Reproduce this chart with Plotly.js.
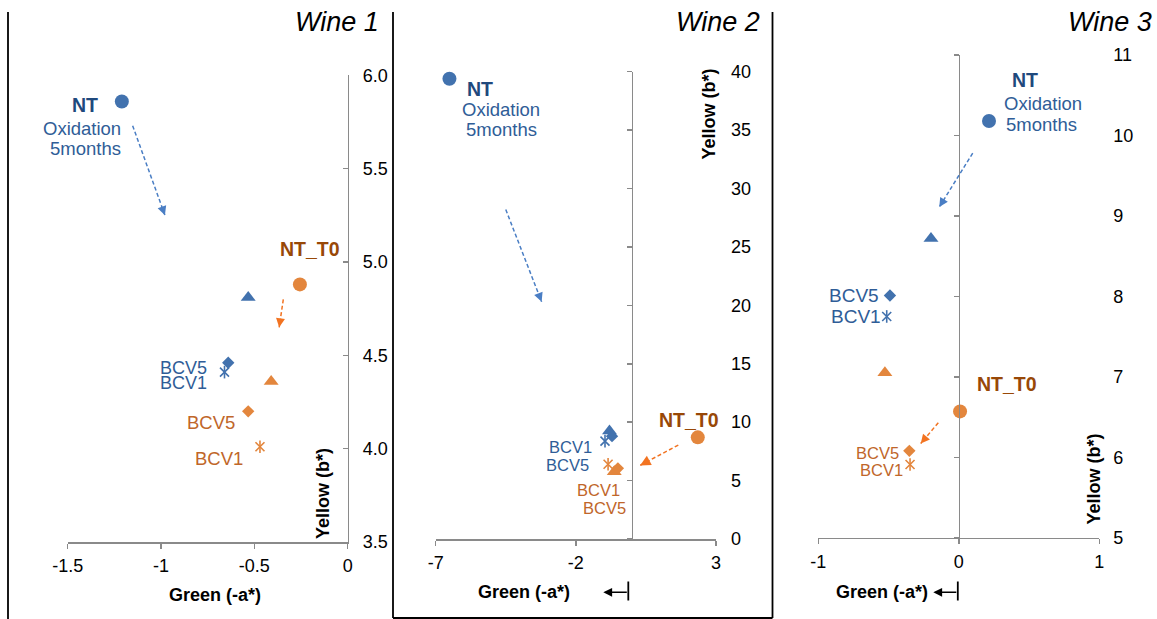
<!DOCTYPE html>
<html>
<head>
<meta charset="utf-8">
<script src="https://cdn.plot.ly/plotly-3.0.1.min.js"></script>
<style>html,body{margin:0;padding:0;background:#fff;}#chart{width:1157px;height:619px;}</style>
</head>
<body>
<div id="chart"></div>
<script>
// ---------------- DATA ----------------
// point order in every series: [circle, triangle, diamond (BCV5), asterisk (BCV1)]
const w1_ox_x = [-1.21, -0.533, -0.64, -0.66];
const w1_ox_y = [5.86, 4.81, 4.46, 4.41];
const w1_t0_x = [-0.256, -0.41, -0.533, -0.47];
const w1_t0_y = [4.88, 4.36, 4.20, 4.01];

const w2_ox_x = [-6.51, -0.80, -0.71, -0.96];
const w2_ox_y = [39.4, 9.24, 8.8, 8.38];
const w2_t0_x = [2.35, -0.63, -0.50, -0.85];
const w2_t0_y = [8.70, 5.75, 6.05, 6.4];

const w3_ox_x = [0.215, -0.198, -0.49, -0.513];
const w3_ox_y = [10.18, 8.72, 8.01, 7.75];
const w3_t0_x = [0.009, -0.526, -0.352, -0.347];
const w3_t0_y = [6.57, 7.05, 6.08, 5.91];

// arrows: [tailX, tailY, headX, headY]
const w1_ox_arrow = [-1.152, 5.73, -0.979, 5.25];
const w1_t0_arrow = [-0.345, 4.80, -0.367, 4.65];
const w2_ox_arrow = [-4.50, 28.2, -3.22, 20.3];
const w2_t0_arrow = [1.655, 8.04, 0.29, 6.3];
const w3_ox_arrow = [0.099, 9.78, -0.139, 9.11];
const w3_t0_arrow = [-0.146, 6.43, -0.271, 6.17];

// ticks
const w1_xticks = [-1.5, -1, -0.5, 0];
const w1_xticklabels = ['-1.5', '-1', '-0.5', '0'];
const w1_yticks = [3.5, 4.0, 4.5, 5.0, 5.5, 6.0];
const w1_yticklabels = ['3.5', '4.0', '4.5', '5.0', '5.5', '6.0'];
const w2_xticks = [-7, -2, 3];
const w2_xticklabels = ['-7', '-2', '3'];
const w2_yticks = [0, 5, 10, 15, 20, 25, 30, 35, 40];
const w2_yticklabels = ['0', '5', '10', '15', '20', '25', '30', '35', '40'];
const w3_xticks = [-1, 0, 1];
const w3_xticklabels = ['-1', '0', '1'];
const w3_yticks = [5, 6, 7, 8, 9, 10, 11];
const w3_yticklabels = ['5', '6', '7', '8', '9', '10', '11'];

const titles = ['Wine 1', 'Wine 2', 'Wine 3'];
const xTitle = 'Green (-a*)';
const yTitle = 'Yellow (b*)';

// ---------------- STYLE ----------------
const W = 1157, H = 619;
const px = v => v / W;
const py = v => 1 - v / H;
const FONT = 'Liberation Sans, Arial, Helvetica, sans-serif';
const BLUE = '#4272AE', ORANGE = '#E3863D';
const BLUE_TXT = '#2F5D97', NT_BLUE = '#1F497D', BCV_OR = '#C0662A', T0_OR = '#984807';
const BLUE_ARROW = '#4A7EC4', OR_ARROW = '#F27321';
const AXIS = '#8A8A8A';
const SYMBOLS = ['circle', 'triangle-up', 'diamond', 'x-thin-open'];
const SIZES = [14, 13, 9.5, 9];

// panel geometry in pixels
const P1 = { xd: [67.7, 347.7], yd: [75.3, 542], xr: [-1.5, 0], yr: [3.5, 6.0] };
const P2 = { xd: [435.7, 716], yd: [71.7, 539], xr: [-7, 3], yr: [0, 40] };
const P3 = { xd: [818.3, 1099.3], yd: [55, 537.7], xr: [-1, 1], yr: [5, 11] };

const traces = [];
function addSeries(xs, ys, color, xa, ya) {
  traces.push({
    type: 'scatter', mode: 'markers', x: xs, y: ys, xaxis: xa, yaxis: ya,
    cliponaxis: false, hoverinfo: 'x+y',
    marker: { symbol: SYMBOLS, size: SIZES, color: color, opacity: 1,
      line: { color: color, width: [0, 0, 0, 1.6] } }
  });
  traces.push({
    type: 'scatter', mode: 'markers', x: [xs[3]], y: [ys[3]], xaxis: xa, yaxis: ya,
    cliponaxis: false, hoverinfo: 'skip',
    marker: { symbol: 'line-ns-open', size: 9, color: color, opacity: 1,
      line: { color: color, width: 1.6 } }
  });
}
addSeries(w1_ox_x, w1_ox_y, BLUE, 'x', 'y');
addSeries(w1_t0_x, w1_t0_y, ORANGE, 'x', 'y');
addSeries(w2_ox_x, w2_ox_y, BLUE, 'x2', 'y2');
addSeries(w2_t0_x, w2_t0_y, ORANGE, 'x2', 'y2');
addSeries(w3_ox_x, w3_ox_y, BLUE, 'x3', 'y3');
addSeries(w3_t0_x, w3_t0_y, ORANGE, 'x3', 'y3');
// empty traces so that the axis lines through x = 0 are drawn
traces.push({ type: 'scatter', x: [], y: [], xaxis: 'x2', yaxis: 'y4', hoverinfo: 'skip' });
traces.push({ type: 'scatter', x: [], y: [], xaxis: 'x3', yaxis: 'y5', hoverinfo: 'skip' });

const tickFont = { family: FONT, size: 18, color: '#000' };
function xAxis(P, tv, tt, anchor) {
  return { domain: [px(P.xd[0]), px(P.xd[1])], range: P.xr, anchor: anchor, tickvals: tv, ticktext: tt,
    showline: true, linecolor: AXIS, linewidth: 1.5, ticks: 'outside', ticklen: 5,
    tickcolor: AXIS, tickwidth: 1.5, showgrid: false, zeroline: false,
    tickfont: tickFont, fixedrange: true, ticklabelstandoff: 2 };
}
function yLabelAxis(P, tv, tt, anchor, standoff) {
  return { domain: [py(P.yd[1]), py(P.yd[0])], range: P.yr, anchor: anchor, side: 'right',
    tickvals: tv, ticktext: tt, showline: false, ticks: '', showgrid: false, zeroline: false,
    tickfont: tickFont, fixedrange: true, ticklabelstandoff: standoff };
}
function yLineAxis(over, pos, P, tv) {
  return { overlaying: over, anchor: 'free', position: pos, side: 'left', range: P.yr,
    tickvals: tv, showticklabels: false, showline: true, linecolor: AXIS, linewidth: 1.5,
    ticks: 'outside', ticklen: 5, tickcolor: AXIS, tickwidth: 1.5, showgrid: false,
    zeroline: false, fixedrange: true };
}

const layout = {
  width: W, height: H, margin: { l: 0, r: 0, t: 0, b: 0 },
  paper_bgcolor: '#fff', plot_bgcolor: 'rgba(0,0,0,0)', showlegend: false,
  font: { family: FONT },
  xaxis: xAxis(P1, w1_xticks, w1_xticklabels, 'y'),
  yaxis: { domain: [py(P1.yd[1]), py(P1.yd[0])], range: P1.yr, anchor: 'x', side: 'right',
    tickvals: w1_yticks, ticktext: w1_yticklabels, showline: true, linecolor: AXIS, linewidth: 1.5,
    ticks: 'inside', ticklen: 5, tickcolor: AXIS, tickwidth: 1.5, showgrid: false, zeroline: false,
    tickfont: tickFont, fixedrange: true, ticklabelstandoff: 10 },
  xaxis2: xAxis(P2, w2_xticks, w2_xticklabels, 'y2'),
  yaxis2: yLabelAxis(P2, w2_yticks, w2_yticklabels, 'x2', 14),
  yaxis4: yLineAxis('y2', px(631.9), P2, w2_yticks),
  xaxis3: xAxis(P3, w3_xticks, w3_xticklabels, 'y3'),
  yaxis3: yLabelAxis(P3, w3_yticks, w3_yticklabels, 'x3', 13),
  yaxis5: yLineAxis('y3', px(958.8), P3, w3_yticks),
  shapes: [], annotations: []
};

// frames
const frameLines = [
  [8, 12, 8, 619], [393, 12, 393, 618], [393, 618, 772.5, 618], [772.5, 12, 772.5, 618]
];
frameLines.forEach(f => layout.shapes.push({ type: 'line', xref: 'paper', yref: 'paper',
  x0: px(f[0]), y0: py(f[1]), x1: px(f[2]), y1: py(f[3]), line: { color: '#000', width: 1.8 } }));

// dashed arrows: dashed shaft as a shape, solid head as an annotation (pixel-offset tail)
function addArrow(a, color, xa, ya, P, size) {
  layout.shapes.push({ type: 'line', xref: xa, yref: ya, x0: a[0], y0: a[1], x1: a[2], y1: a[3],
    line: { color: color, width: 1.5, dash: '4px,2.5px' } });
  const sx = (P.xd[1] - P.xd[0]) / (P.xr[1] - P.xr[0]);
  const sy = (P.yd[1] - P.yd[0]) / (P.yr[1] - P.yr[0]);
  const dx = (a[2] - a[0]) * sx, dy = -(a[3] - a[1]) * sy;
  const len = Math.hypot(dx, dy), L = 9;
  layout.annotations.push({ xref: xa, yref: ya, x: a[2], y: a[3],
    ax: -dx / len * L, ay: -dy / len * L, text: '', showarrow: true,
    arrowhead: 2, arrowsize: size || 1.2, arrowwidth: 1.5, arrowcolor: color, standoff: 0 });
}
addArrow(w1_ox_arrow, BLUE_ARROW, 'x', 'y', P1);
addArrow(w1_t0_arrow, OR_ARROW, 'x', 'y', P1);
addArrow(w2_ox_arrow, BLUE_ARROW, 'x2', 'y2', P2);
addArrow(w2_t0_arrow, OR_ARROW, 'x2', 'y2', P2, 1.4);
addArrow(w3_ox_arrow, BLUE_ARROW, 'x3', 'y3', P3);
addArrow(w3_t0_arrow, OR_ARROW, 'x3', 'y3', P3);

// text labels (pixel positions)
function label(text, x, y, size, color, bold, extra) {
  layout.annotations.push(Object.assign({ xref: 'paper', yref: 'paper', x: px(x), y: py(y),
    xanchor: 'center', yanchor: 'middle', showarrow: false,
    text: bold ? '<b>' + text + '</b>' : text,
    font: { family: FONT, size: size, color: color } }, extra || {}));
}
// Wine 1
label('NT', 85, 105, 19.5, NT_BLUE, true);
label('Oxidation', 81.7, 128.5, 18.5, BLUE_TXT);
label('5months', 85.2, 148, 18.5, BLUE_TXT);
label('NT_T0', 309.7, 248.5, 19.5, T0_OR, true);
label('BCV5', 183.8, 367.5, 18, BLUE_TXT);
label('BCV1', 183.3, 383.5, 18, BLUE_TXT);
label('BCV5', 211.3, 422, 18.5, BCV_OR);
label('BCV1', 219.2, 458.3, 18.5, BCV_OR);
// Wine 2
label('NT', 480, 88.5, 19.5, NT_BLUE, true);
label('Oxidation', 501, 109.5, 18.5, BLUE_TXT);
label('5months', 501.3, 129.5, 18.5, BLUE_TXT);
label('BCV1', 570, 446.5, 16.5, BLUE_TXT);
label('BCV5', 567.8, 464.5, 16.5, BLUE_TXT);
label('BCV1', 598.3, 490, 16.5, BCV_OR);
label('BCV5', 604.2, 507.5, 16.5, BCV_OR);
label('NT_T0', 689.2, 419.5, 19.5, T0_OR, true);
// Wine 3
label('NT', 1025, 80.3, 19.5, NT_BLUE, true);
label('Oxidation', 1043.3, 103.3, 18.5, BLUE_TXT);
label('5months', 1041.7, 125, 18.5, BLUE_TXT);
label('BCV5', 854.3, 295, 19, BLUE_TXT);
label('BCV1', 855.8, 316.7, 19, BLUE_TXT);
label('NT_T0', 1007.2, 383.7, 19.5, T0_OR, true);
label('BCV5', 877.2, 453.3, 16.5, BCV_OR);
label('BCV1', 881.7, 470.3, 16.5, BCV_OR);

// panel titles
const titlePos = [[337, 22], [717.5, 22], [1110, 22]];
titles.forEach((t, i) => label('<i>' + t + '</i>', titlePos[i][0], titlePos[i][1], 27, '#000'));

// axis titles
const xTitlePos = [[215, 595], [524.3, 592], [882, 592]];
xTitlePos.forEach(p => label(xTitle, p[0], p[1], 18, '#000', true));
const yTitlePos = [[323, 494], [708.5, 114], [1093.5, 479]];
yTitlePos.forEach(p => label(yTitle, p[0], p[1], 18, '#000', true, { textangle: -90 }));

// "←|" markers under panels 2 and 3
const barArrows = [[603.3, 628.3, 592.3], [933.3, 957.8, 592.3]];
barArrows.forEach(b => {
  layout.shapes.push({ type: 'line', xref: 'paper', yref: 'paper', x0: px(b[1]), x1: px(b[1]),
    y0: py(581.5), y1: py(600.5), line: { color: '#000', width: 1.8 } });
  layout.annotations.push({ xref: 'paper', yref: 'paper', x: px(b[0]), y: py(b[2]),
    ax: b[1] - b[0], ay: 0, text: '', showarrow: true, arrowhead: 2, arrowsize: 1.1,
    arrowwidth: 1.6, arrowcolor: '#000', standoff: 0 });
});

Plotly.newPlot('chart', traces, layout, { staticPlot: true, displayModeBar: false });
</script>
</body>
</html>
